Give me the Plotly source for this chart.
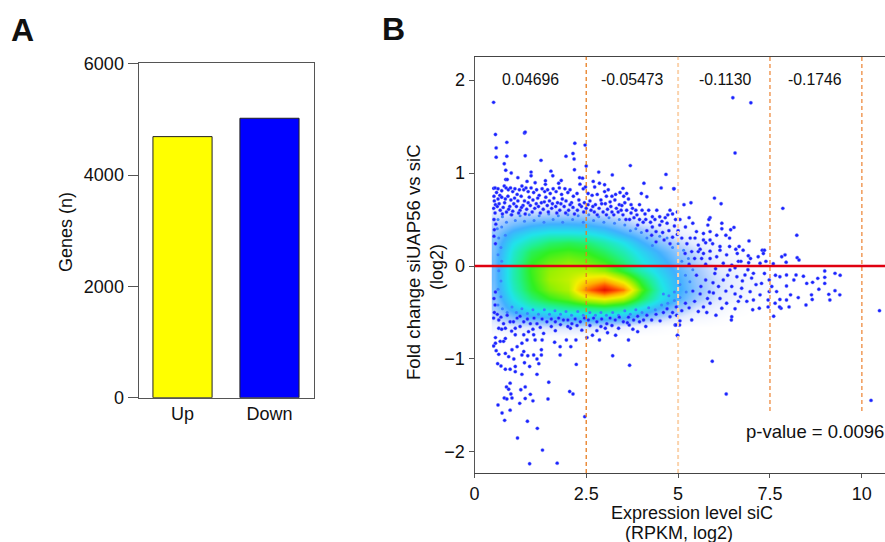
import plotly.graph_objects as go

W, H = 885, 542

# Panel A
categories = ["Up", "Down"]
genes = [4690, 5020]
bar_colors = ["#ffff00", "#0000ff"]

# Panel B density grid (levels)
grid_x = [0, .5, 1, 1.5, 2, 2.5, 3, 3.5, 4, 4.5, 5, 5.5, 6, 6.5, 7, 7.5, 8]
grid_y = [.75, .65, .55, .45, .35, .25, .15, .05, -.05, -.15, -.25, -.35, -.45, -.55, -.65, -.75, -.85]
grid_z = [
    [0, 0, 0, 0, 0, 0, 0, 0, 0, 0, 0, 0, 0, 0, 0, 0, 0],
    [.2, .3, .3, .4, .4, .3, .2, .1, 0, 0, 0, 0, 0, 0, 0, 0, 0],
    [.6, .8, .9, 1, 1, 1, .8, .5, .2, .1, 0, 0, 0, 0, 0, 0, 0],
    [.9, 1.5, 1.9, 2.1, 2.1, 2, 1.7, 1.2, .7, .4, .2, 0, 0, 0, 0, 0, 0],
    [1.2, 2.3, 2.9, 3.2, 3.2, 3.1, 2.7, 2, 1.4, .8, .4, .2, 0, 0, 0, 0, 0],
    [1.4, 2.9, 3.7, 4.3, 4.5, 4.3, 3.7, 3, 2.1, 1.3, .8, .4, .2, 0, 0, 0, 0],
    [1.5, 3.3, 4.5, 5, 5.2, 5, 4.4, 3.6, 2.7, 1.9, 1.2, .7, .3, .1, 0, 0, 0],
    [1.6, 3.5, 4.9, 5.5, 5.8, 5.6, 5.1, 4.2, 3.1, 2.3, 1.5, .9, .4, .2, .1, 0, 0],
    [1.6, 3.6, 5.1, 5.9, 6.2, 6.3, 5.9, 4.8, 3.6, 2.6, 1.8, 1.1, .6, .3, .1, 0, 0],
    [1.6, 3.6, 5, 6, 6.4, 7.3, 7.8, 6.5, 4.6, 3, 2, 1.2, .7, .4, .2, .1, 0],
    [1.5, 3.4, 4.8, 5.7, 6.2, 8.6, 10, 8.6, 5.4, 3.3, 2.1, 1.3, .7, .4, .2, .1, 0],
    [1.3, 3, 4.2, 5, 5.5, 6.5, 7, 6.3, 4.6, 3, 1.9, 1.1, .6, .3, .1, 0, 0],
    [1.1, 2.4, 3.2, 3.6, 4, 4.2, 4.4, 4, 3, 2, 1.2, .6, .3, .1, 0, 0, 0],
    [.7, 1.4, 1.8, 2, 2.2, 2.4, 2.4, 2.1, 1.5, .9, .5, .2, .1, 0, 0, 0, 0],
    [.3, .5, .6, .7, .7, .7, .6, .4, .2, .1, 0, 0, 0, 0, 0, 0, 0],
    [0, .1, .1, .1, .1, .1, 0, 0, 0, 0, 0, 0, 0, 0, 0, 0, 0],
    [0, 0, 0, 0, 0, 0, 0, 0, 0, 0, 0, 0, 0, 0, 0, 0, 0],
]
density_scale = [
    [0, "#ffffff"], [.05, "#e4ecff"], [.1, "#a8ccff"], [.2, "#40b0ff"], [.3, "#20e4ea"],
    [.4, "#20f090"], [.5, "#30f020"], [.6, "#a0f000"], [.7, "#f4f000"],
    [.8, "#ffb000"], [.9, "#ff5000"], [1, "#e81000"],
]

# Individually visible points: upper fringe
upper_points = [
    (-.02, 1.76), (.03, 1.415), (.82, 1.43), (.84, 1.44), (.34, 1.33), (.05, 1.27), (.05, 1.17), (.34, 1.18),
    (.84, 1.185), (1.27, 1.136), (.27, 1.10), (.31, 1.03), (.46, 1.0), (1.0, 1.01), (1.0, .97), (.64, .95),
    (.31, .93), (.35, .93), (.89, .91), (1.11, .896), (1.39, .917), (1.39, .878), (1.59, .97), (1.54, 1.02),
    (1.82, .92), (1.75, .89), (1.95, 1.18), (2.14, 1.21), (2.19, 1.32), (2.47, 1.30), (2.17, 1.15), (2.18, 1.035),
    (2.5, 1.075), (2.32, .95), (2.4, .945), (2.33, .88), (2.69, .91), (2.84, 1.01), (2.86, .89), (3.21, .98),
    (3.0, .874), (2.73, .85), (3.7, 1.08), (4.07, .89), (4.67, .985), (4.54, .84), (4.88, .83), (4.0, .78),
    (4.15, .745), (3.5, .835), (-.02, .835), (.02, .84), (.06, .79), (.1, .83), (.15, .76), (.2, .81), (.27, .86),
    (.32, .84), (.38, .82), (.44, .84), (.5, .8), (.56, .83), (.62, .77), (.68, .82), (.75, .86), (.8, .82),
    (.86, .84), (.92, .8), (1.0, .84), (1.07, .79), (1.15, .82), (1.22, .76), (1.3, .83), (1.37, .8), (1.45, .82),
    (1.52, .78), (1.6, .83), (1.68, .8), (1.77, .84), (1.83, .77), (1.92, .83), (2.0, .79), (2.06, .82), (2.15, .75),
    (2.25, .78), (2.42, .83), (2.48, .85), (2.55, .78), (2.66, .76), (2.8, .77), (3.0, .8), (3.05, .75), (3.1, .82),
    (3.2, .75), (3.3, .77), (3.42, .79), (3.52, .75), (3.6, .78), (3.65, .72), (-.01, .75), (.0, .7), (.03, .66),
    (-.02, .62), (.02, .57), (-.01, .5), (.04, .45), (.0, .39), (-.01, .32), (.03, .24), (.1, .72), (.2, .74), (.28, .68),
    (.37, .75), (.45, .71), (.55, .73), (.64, .7), (.73, .75), (.82, .7), (.95, .74), (1.05, .71), (1.18, .73), (1.28, .68),
    (1.4, .74), (1.5, .7), (1.62, .73), (1.72, .68), (1.85, .72), (1.95, .7), (2.1, .68), (2.3, .71), (2.45, .68),
    (2.6, .7), (2.75, .66), (2.9, .71), (3.02, .67), (3.15, .69), (3.28, .71), (3.4, .66), (3.55, .68), (3.72, .66),
    (3.85, .6), (3.95, .66), (4.1, .56), (4.2, .6), (4.3, .53), (4.42, .6), (4.5, .53), (4.65, .52), (4.78, .6),
    (4.85, .56), (4.98, .58), (4.3, .42), (4.5, .44), (4.7, .46), (4.9, .43), (3.8, .52), (3.95, .5), (3.72, .57), (3.45, .6),
    (.08, .64), (.16, .6), (.24, .63), (.33, .58), (.42, .64), (.5, .59), (.6, .64), (.7, .6), (.78, .65), (.88, .61),
    (.98, .65), (1.1, .62), (1.2, .64), (1.33, .61), (1.44, .65), (1.56, .62), (1.67, .64), (1.78, .6), (1.9, .64), (2.02, .6),
    (2.14, .63), (2.26, .6), (2.37, .64), (2.5, .62), (2.63, .6), (2.72, .58), (2.85, .62), (2.96, .58), (3.08, .61), (3.2, .58),
    (3.32, .62), (3.5, .55), (3.6, .6), (3.68, .5), (3.9, .44), (4.05, .47), (4.15, .38), (4.28, .33), (4.4, .37), (4.58, .36),
    (4.75, .38), (4.85, .31), (4.98, .34), (4.62, .28), (4.4, .26), (4.78, .24),
    (.13, .67), (.22, .56), (.3, .72), (.39, .61), (.47, .55), (.53, .67), (.66, .57), (.74, .63), (.84, .56), (.92, .68), (1.03, .58), (1.14, .67),
    (1.25, .57), (1.36, .69), (1.47, .58), (1.58, .67), (1.7, .57), (1.81, .67), (1.94, .57), (2.06, .66), (2.18, .56), (2.32, .66), (2.43, .58),
    (2.55, .66), (2.68, .64), (2.8, .55), (2.92, .67), (3.05, .55), (3.17, .64), (3.25, .55), (3.37, .58), (3.47, .65), (3.58, .5), (3.76, .62),
    (3.88, .55), (4.02, .6), (4.12, .5), (4.25, .47), (4.37, .5), (4.56, .48), (4.72, .55), (4.93, .5),
]
# Right-hand fringe
right_points = [
    (6.49, 1.81), (6.98, 1.755), (6.55, 1.215), (4.89, .83), (5.99, .73), (6.17, .67), (5.35, .68), (5.16, .66),
    (7.85, .62), (8.23, .33), (6.93, .27), (5.87, .52), (5.84, .5), (5.4, .46), (6.19, .46), (5.81, .44), (6.52, .415),
    (6.43, .39), (6.19, .40), (5.87, .37), (5.5, .37), (6.05, .33), (6.3, .33), (6.4, .30), (5.69, .35), (5.33, .30),
    (5.46, .30), (5.69, .28), (5.87, .28), (5.1, .30), (5.24, .24), (5.55, .225), (5.94, .24), (6.14, .21), (6.4, .21),
    (6.66, .21), (6.77, .17), (6.57, .18), (7.29, .17), (7.35, .17), (7.32, .135), (7.91, .12), (7.82, .10), (8.24, .09),
    (8.29, .065), (7.94, .04), (7.59, .025), (7.39, .05), (7.18, .10), (6.91, .11), (6.97, .08), (6.92, .035), (6.64, .05),
    (6.71, .05), (6.61, .135), (6.32, .12), (6.14, .17), (5.87, .16), (5.69, .135), (5.55, .155), (5.37, .155), (5.19, .135),
    (6.05, .10), (5.87, .08), (5.64, .08), (6.23, .03), (6.46, .01), (7.23, .03), (5.05, .5), (5.2, .42), (5.3, .52), (5.0, .38),
    (10.48, -.48), (10.25, -1.445), (6.31, -1.377), (5.93, -1.025), (4.99, -.75), (4.92, -.635), (5.04, -.635), (5.05, -.59),
    (6.46, -.545), (6.45, -.58), (5.37, -.58), (6.03, -.53), (7.6, -.54), (8.48, -.42), (8.02, -.44), (7.8, -.455), (7.76, -.44),
    (7.45, -.44), (7.21, -.455), (7.03, -.47), (6.64, -.38), (6.55, -.46), (6.19, -.455), (5.78, -.50), (5.55, -.49), (9.13, -.365),
    (9.4, -.31), (9.27, -.265), (9.1, -.305), (8.63, -.31), (8.65, -.36), (8.27, -.34), (8.06, -.31), (7.95, -.365), (7.77, -.36),
    (7.64, -.40), (7.68, -.275), (7.48, -.275), (7.45, -.365), (7.23, -.31), (7.05, -.365), (6.87, -.38), (7.95, -.215), (8.15, -.15),
    (8.5, -.187), (8.66, -.176), (8.83, -.25), (8.99, -.187), (8.99, -.122), (8.99, -.054), (9.27, -.079), (9.41, -.1), (8.8, -.133),
    (8.41, -.11), (8.21, -.097), (7.95, -.097), (7.77, -.115), (7.48, -.15), (7.27, -.187), (7.05, -.079), (6.82, -.097), (6.6, -.115),
    (6.41, -.043), (6.23, -.15), (6.46, -.22), (6.73, -.24), (6.96, -.276), (5.96, -.29), (6.14, -.35), (6.32, -.4), (5.87, -.40), (5.69, -.44),
    (6.0, -.08), (6.3, -.27), (6.55, -.3), (6.7, -.33), (5.75, -.15), (5.6, -.3), (5.45, -.38), (5.8, -.35), (5.3, -.45), (5.1, -.48), (4.85, -.5),
    (5.75, .02), (6.02, -.03), (5.95, -.18), (6.1, -.22), (6.35, -.1), (6.55, -.02), (6.75, -.16), (6.9, -.04), (7.12, -.2), (7.0, -.13),
    (7.35, -.08), (7.55, -.22), (7.65, -.1), (5.6, .18), (5.75, .25), (5.45, .08), (5.3, .02), (5.5, -.1), (5.62, -.22), (5.85, -.28),
    (5.2, -.4), (5.4, -.27), (4.7, -.46), (4.95, -.44),
]
# Lower fringe
lower_points = [
    (.96, -2.126), (1.71, -2.12), (1.31, -1.98), (.63, -1.85), (1.17, -1.746), (.9, -1.67), (.28, -1.66), (.21, -1.58), (.43, -1.55),
    (.1, -1.495), (.69, -1.477), (.27, -1.42), (.34, -1.43), (.48, -1.42), (.84, -1.425), (1.05, -1.45), (1.46, -1.43), (.98, -1.38),
    (.45, -1.376), (.72, -1.33), (.84, -1.30), (.33, -1.3), (.39, -1.325), (.43, -1.26), (1.48, -1.25), (2.05, -1.35), (2.14, -1.376),
    (2.46, -1.62), (1.16, -1.165), (.75, -1.165), (.57, -1.136), (.43, -1.11), (.3, -1.11), (.09, -1.05), (.18, -1.075), (.96, -1.08),
    (.82, -1.04), (1.21, -1.05), (2.23, -1.058), (3.68, -1.068), (3.22, -.965), (1.79, -.957), (1.16, -1.0), (.57, -1.08), (.53, -1.0),
    (.39, -.975), (.3, -.94), (.12, -.95), (.75, -.957), (.91, -.965), (1.07, -.957), (1.28, -.957), (1.28, -.9), (.8, -.92), (.03, -.83),
    (-.02, -.86), (.05, -.91), (.48, -.9), (.62, -.867), (.75, -.83), (.89, -.795), (1.11, -.795), (1.3, -.795), (1.64, -.82), (1.79, -.867),
    (2.08, -.867), (1.96, -.795), (2.22, -.795), (2.52, -.77), (2.86, -.795), (3.65, -.795), (2.67, -.745), (2.79, -.695), (3.08, -.717),
    (3.3, -.745), (4.98, -.745), (4.94, -.635), (3.9, -.706), (3.77, -.68), (4.12, -.65), (3.67, -.635), (3.38, -.67), (3.02, -.67), (2.38, -.69),
    (2.07, -.67), (1.66, -.695), (1.34, -.725), (1.07, -.74), (.8, -.74), (.57, -.74), (.3, -.78), (.12, -.67), (.3, -.67), (.57, -.67), (.93, -.706),
    (.03, -.77), (.16, -.81), (.25, -.81), (-.02, -.56), (.12, -.58), (.25, -.62), (.43, -.6), (.62, -.56), (.8, -.6), (.98, -.62), (1.16, -.62),
    (1.43, -.6), (1.66, -.6), (1.88, -.58), (2.11, -.62), (2.34, -.6), (2.56, -.58), (2.79, -.6), (3.06, -.62), (3.29, -.58), (3.51, -.6), (3.79, -.58),
    (4.06, -.58), (4.28, -.58), (4.51, -.59), (4.78, -.545), (4.96, -.53), (.0, -.5), (.02, -.42), (-.01, -.35), (.03, -.28), (.2, -.68), (.47, -.7),
    (.7, -.65), (1.05, -.68), (1.25, -.66), (1.55, -.65), (1.8, -.63), (2.0, -.65), (2.25, -.64), (2.6, -.64), (2.9, -.65), (3.2, -.64), (3.62, -.61), (3.95, -.6),
    (.08, -.52), (.18, -.55), (.35, -.53), (.52, -.6), (.7, -.54), (.9, -.57), (1.08, -.56), (1.3, -.57), (1.55, -.57), (1.75, -.56), (2.0, -.58),
    (2.2, -.57), (2.45, -.56), (2.7, -.56), (2.92, -.57), (3.15, -.56), (3.4, -.55), (3.65, -.55), (3.9, -.54), (4.15, -.53), (4.4, -.52), (4.6, -.5),
]
fringe_x = [p[0] for p in upper_points + right_points + lower_points]
fringe_y = [p[1] for p in upper_points + right_points + lower_points]

# Points in the intermediate-density ring (lighter blue)
ring_points = [
    (.1, .5), (.22, .53), (.33, .47), (.45, .55), (.57, .49), (.7, .54), (.82, .48), (.95, .55), (1.08, .49), (1.22, .54), (1.35, .47), (1.48, .56),
    (1.6, .5), (1.74, .54), (1.86, .47), (2.0, .55), (2.13, .5), (2.28, .54), (2.42, .47), (2.57, .55), (2.7, .49), (2.84, .53), (2.98, .47), (3.12, .52),
    (3.27, .46), (3.4, .5), (3.55, .44), (.08, .4), (.2, .42), (.3, .33), (.12, .3), (.18, .2), (.1, .12), (.2, .05), (.12, -.05), (.18, -.16), (.1, -.25), (.18, -.33),
    (.1, -.42), (.22, -.46), (.35, -.5), (.48, -.44), (.6, -.5), (.75, -.46), (.9, -.51), (1.05, -.47), (1.2, -.52), (1.36, -.47), (1.5, -.52), (1.65, -.48),
    (1.8, -.52), (1.95, -.49), (2.1, -.53), (2.27, -.49), (2.42, -.53), (2.6, -.5), (2.75, -.53), (2.9, -.5), (3.05, -.53), (3.22, -.5), (3.38, -.53), (3.55, -.48),
    (3.7, -.52), (3.85, -.47), (4.02, -.5), (4.2, -.45), (4.38, -.47), (4.55, -.42), (4.72, -.4), (4.9, -.37), (5.05, -.34), (5.22, -.28), (5.32, -.17), (5.4, -.04),
    (5.28, .08), (5.15, .17), (5.0, .24), (4.85, .2), (4.7, .3), (4.5, .32), (4.3, .22), (4.15, .3), (4.0, .36), (3.85, .4), (3.7, .38), (5.1, .05), (5.2, -.1), (4.9, -.28),
    (5.05, -.2), (4.75, -.32), (4.6, -.3),
]
ring_x = [p[0] for p in ring_points]
ring_y = [p[1] for p in ring_points]

# Panel B guides and labels
guide_x = [2.5, 5, 7.5, 10]
guide_bottom = [-2.226, -2.226, -1.56, -1.56]
guide_colors = ["#e87d20", "#fbd3ad", "#f09a58", "#f09a58"]
guide_widths = [1.3, 2, 1.5, 1.5]
band_labels = ["0.04696", "-0.05473", "-0.1130", "-0.1746"]
band_label_x = [530.5, 632, 725, 815]
x_tick_values = [-.54, 2.5, 5, 7.5, 10]
x_tick_labels = ["0", "2.5", "5", "7.5", "10"]
y_tick_values = [-2, -1, 0, 1, 2]

FONT = "Liberation Sans, Arial, sans-serif"
fig = go.Figure()
fig.add_trace(go.Bar(x=[0, 1], y=genes, width=.68, marker=dict(color=bar_colors, line=dict(color="#222", width=1)),
                     xaxis="x", yaxis="y", showlegend=False))
fig.add_trace(go.Heatmap(x=grid_x, y=grid_y, z=grid_z, zmin=0, zmax=10, colorscale=density_scale, showscale=False,
                         zsmooth="best", xaxis="x2", yaxis="y2"))
fig.add_trace(go.Scatter(x=ring_x, y=ring_y, mode="markers", xaxis="x2", yaxis="y2", showlegend=False,
                         marker=dict(color="#3a80ff", size=3, line=dict(width=0))))
fig.add_trace(go.Scatter(x=fringe_x, y=fringe_y, mode="markers", xaxis="x2", yaxis="y2", showlegend=False,
                         marker=dict(color="#1a22ff", size=3.4, line=dict(color="rgba(120,130,255,.4)", width=1))))

def px(v): return v / W
def py(v): return 1 - v / H

left_mask = dict(type="rect", xref="x2", yref="y2", x0=-.51, x1=-.07, y0=-.95, y1=.85, fillcolor="white", line=dict(width=0), layer="above")

fig.update_layout(
    width=W, height=H, autosize=False, margin=dict(l=0, r=0, t=0, b=0, autoexpand=False), paper_bgcolor="white", plot_bgcolor="white",
    font=dict(family=FONT, size=18, color="#111"),
    xaxis=dict(domain=[px(138.5), px(313.5)], range=[-.506, 1.506], tickvals=[0, 1], ticktext=categories, ticks="",
               showline=True, linecolor="#555", mirror=True, showgrid=False, zeroline=False, tickfont=dict(size=18)),
    yaxis=dict(domain=[py(397.7), py(62.7)], range=[0, 6018], tickvals=[0, 2000, 4000, 6000], ticks="outside", ticklen=10, tickcolor="#555",
               showline=True, linecolor="#555", mirror=True, showgrid=False, zeroline=False, tickfont=dict(size=18)),
    xaxis2=dict(domain=[px(474.5), 1], range=[-.54, 10.63], tickvals=x_tick_values, ticktext=x_tick_labels, ticks="outside", ticklen=4,
                tickcolor="#555", showline=True, linecolor="#444", mirror=True, showgrid=False, zeroline=False, anchor="y2", tickfont=dict(size=18)),
    yaxis2=dict(domain=[py(473), py(56.5)], range=[-2.226, 2.253], tickvals=y_tick_values, ticks="outside", ticklen=5, tickcolor="#555",
                showline=True, linecolor="#555", showgrid=False, zeroline=False, anchor="x2", tickfont=dict(size=18)),
    shapes=[left_mask]
           + [dict(type="line", xref="x2", yref="y2", x0=x, x1=x, y0=b, y1=2.25, line=dict(color=c, width=w, dash="4px,3px"))
              for x, b, c, w in zip(guide_x, guide_bottom, guide_colors, guide_widths)]
           + [dict(type="line", xref="x2", yref="y2", x0=-.54, x1=10.63, y0=0, y1=0, line=dict(color="#e00010", width=2.4))],
)

def note(text, x, y, size=16, **kw):
    fig.add_annotation(text=text, x=px(x), y=py(y), xref="paper", yref="paper", showarrow=False, xanchor="center", yanchor="middle",
                       font=dict(size=size, family=FONT, color="#111"), **kw)

note("<b>A</b>", 22, 30, size=32)
note("<b>B</b>", 393.5, 29, size=32)
note("Genes (n)", 66, 232, size=18, textangle=-90)
note("Fold change siUAP56 vs siC", 413, 262, size=18.6, textangle=-90)
note("(log2)", 437, 267, size=18, textangle=-90)
note("Expression level siC", 692, 513, size=18)
note("(RPKM, log2)", 679, 533, size=18)
note("p-value = 0.0096", 815, 431, size=18.5)
for label, lx in zip(band_labels, band_label_x):
    note(label, lx, 79, size=15.8)

fig.write_html("out.html", config={"displayModeBar": False},
               post_script="document.body.style.margin='0';document.documentElement.style.overflow='hidden';")
